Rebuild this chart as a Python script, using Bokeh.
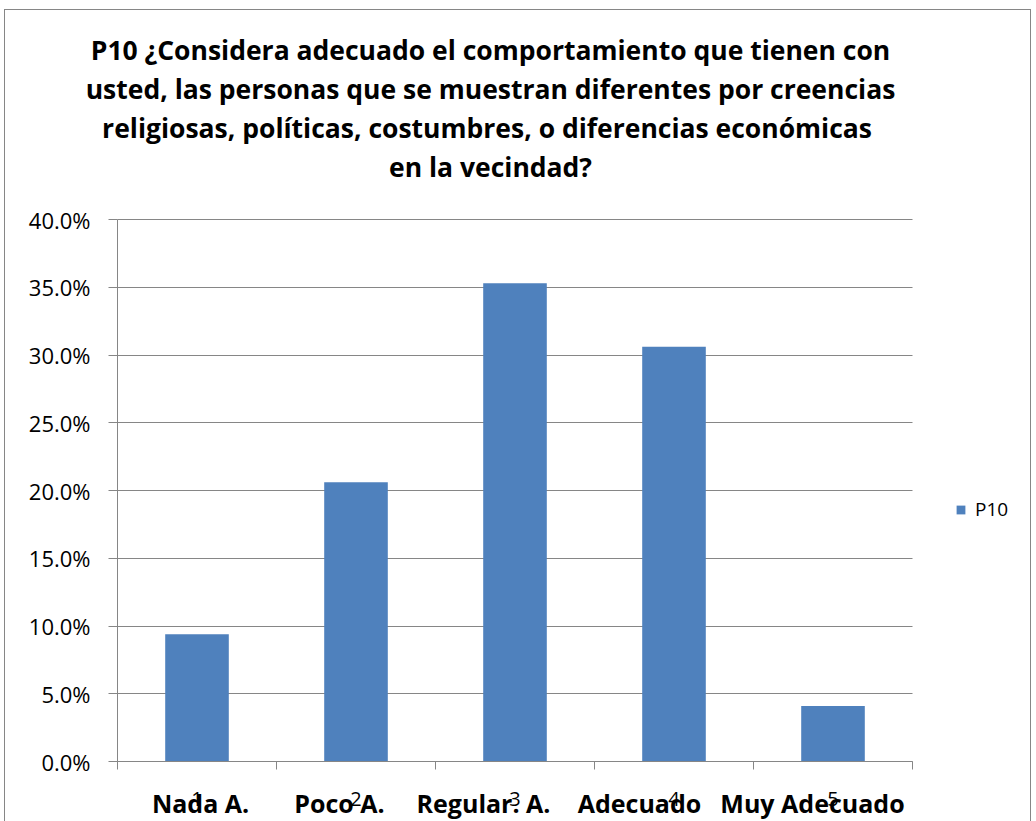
from bokeh.plotting import figure
from bokeh.models import (ColumnDataSource, FixedTicker, NumeralTickFormatter, Label,
                          Legend, LegendItem, Range1d)
from bokeh.embed import file_html
from bokeh.resources import INLINE

# ---- data ----
categories = ["1", "2", "3", "4", "5"]
category_names = ["Nada A.", "Poco A.", "Regular. A.", "Adecuado", "Muy Adecuado"]
values = [0.094, 0.206, 0.353, 0.306, 0.041]
series_name = "P10"
title_lines = [
    "P10 ¿Considera adecuado el comportamiento que tienen con",
    "usted, las personas que se muestran diferentes por creencias",
    "religiosas, políticas, costumbres, o diferencias  económicas",
    "en la vecindad?",
]
y_ticks = [0.0, 0.05, 0.10, 0.15, 0.20, 0.25, 0.30, 0.35, 0.40]

# ---- style / layout ----
FONT = "Open Sans"
BAR = "#4F81BD"
GRID = "#868686"
W, H = 1027, 812          # canvas (page x 4..1031, y 9..821)
PLOT_L, PLOT_R = 113, 908  # plot area in canvas px
PLOT_T, PLOT_B = 210, 752

n = len(categories)
x_lo, x_hi = 0.5, n + 0.5
y_lo, y_hi = 0.0, 0.4
sx = (PLOT_R - PLOT_L) / (x_hi - x_lo)
sy = (PLOT_B - PLOT_T) / (y_hi - y_lo)
x_range = Range1d(x_lo - PLOT_L / sx, x_hi + (W - PLOT_R) / sx)
y_range = Range1d(y_lo - (H - PLOT_B) / sy, y_hi + PLOT_T / sy)

xs = list(range(1, n + 1))
src = ColumnDataSource(dict(x=xs, top=values))

p = figure(width=W, height=H, output_backend="svg", toolbar_location=None,
           x_range=x_range, y_range=y_range, min_border=0)
p.margin = (9, 0, 0, 4)
p.styles = {"background-color": "white",
            "box-shadow": "inset 1px 0 0 #868686, inset -1px 0 0 #868686, inset 0 1px 0 #868686"}
p.outline_line_color = None
p.background_fill_color = None
p.border_fill_color = None

r = p.vbar(x="x", top="top", width=0.4, source=src, fill_color=BAR, line_color=None)

# y axis
p.yaxis.fixed_location = x_lo
p.yaxis.bounds = (y_lo, y_hi)
p.yaxis.ticker = FixedTicker(ticks=y_ticks)
p.yaxis.formatter = NumeralTickFormatter(format="0.0%")
p.yaxis.axis_line_color = GRID
p.yaxis.major_tick_line_color = GRID
p.yaxis.major_tick_out = 9
p.yaxis.major_tick_in = 0
p.yaxis.minor_tick_line_color = None
p.yaxis.major_label_text_font = FONT
p.yaxis.major_label_text_font_size = "22px"
p.yaxis.major_label_text_color = "black"
p.yaxis.major_label_standoff = 18

# x axis
bounds = [i + 0.5 for i in range(0, n + 1)]
p.xaxis.fixed_location = y_lo
p.xaxis.bounds = (x_lo, x_hi)
p.xaxis.ticker = FixedTicker(ticks=xs, minor_ticks=bounds)
p.xaxis.major_label_overrides = {i: c for i, c in zip(xs, categories)}
p.xaxis.axis_line_color = GRID
p.xaxis.major_tick_line_color = None
p.xaxis.minor_tick_line_color = GRID
p.xaxis.minor_tick_out = 8
p.xaxis.minor_tick_in = 0
p.xaxis.major_tick_out = 0
p.xaxis.major_tick_in = 0
p.xaxis.major_label_text_font = FONT
p.xaxis.major_label_text_font_size = "20px"
p.xaxis.major_label_text_color = "black"
p.xaxis.major_label_standoff = 22

p.xgrid.grid_line_color = None
p.ygrid.ticker = FixedTicker(ticks=y_ticks)
p.ygrid.grid_line_color = GRID
p.ygrid.bounds = (y_lo, y_hi)
p.ygrid.cross_bounds = (x_lo, x_hi)

# bold category names (offset from category centres)
name_offsets = [0.022, -0.104, -0.198, -0.217, -0.129]
for i, (nm, off) in enumerate(zip(category_names, name_offsets)):
    p.add_layout(Label(x=xs[i] + off, y=19, x_units="data", y_units="screen",
                       text=nm, text_font=FONT, text_font_style="bold",
                       text_font_size="25px", text_align="center",
                       text_baseline="alphabetic", text_color="black"))

# title
title_y = [772, 733, 694, 655]
for t, ty in zip(title_lines, title_y):
    p.add_layout(Label(x=486, y=ty, x_units="screen", y_units="screen", text=t,
                       text_font=FONT, text_font_style="bold", text_font_size="26.5px",
                       text_align="center", text_baseline="alphabetic", text_color="black"))

# legend
legend = Legend(items=[LegendItem(label=series_name, renderers=[r])],
                location=(951, 299), border_line_color=None, background_fill_alpha=0,
                glyph_width=11, glyph_height=11, label_text_font=FONT,
                label_text_font_size="19px", label_text_color="black",
                label_standoff=9, padding=0, spacing=0, margin=0)
p.add_layout(legend, "center")

open("out.html", "w").write(file_html(p, INLINE))
